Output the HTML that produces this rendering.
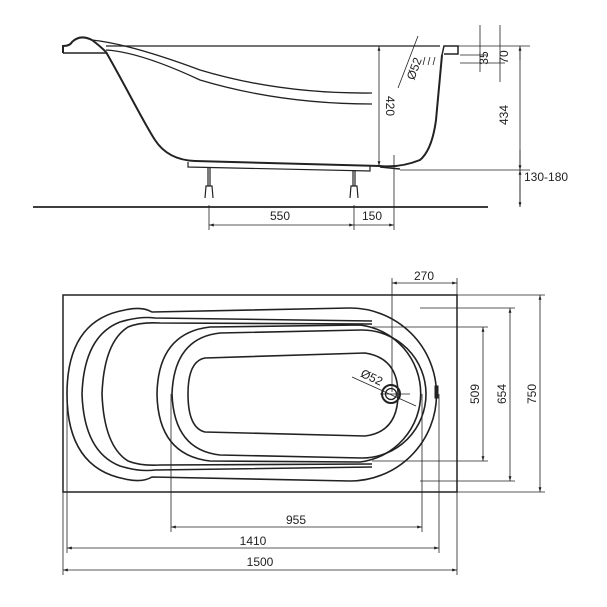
<!DOCTYPE html>
<html><head><style>html,body{margin:0;padding:0;background:#fff}svg{display:block}</style></head><body>
<svg width="607" height="607" viewBox="0 0 607 607" xmlns="http://www.w3.org/2000/svg" font-family="Liberation Sans, sans-serif" font-size="12" fill="none" stroke="#222">
<defs><marker id="a" viewBox="0 0 10 10" refX="10" refY="5" markerWidth="8" markerHeight="6" orient="auto-start-reverse"><path d="M0,2 L10,5 L0,8" fill="#222" stroke="none"/></marker></defs>
<!-- SIDE VIEW -->
<g stroke-width="2">
<path d="M63,53 L63,46 Q70,46 72,42 Q80,34 92,40 Q100,46 106,52"/>
<line x1="63" y1="53" x2="106" y2="53" stroke-width="1.5"/>
<path d="M106,52 C125,85 145,125 155,140 Q168,160 195,161 L380,166 Q400,168 420,160 Q432,150 436,120 L442,55"/>
<path d="M92,40 Q130,44 200,70 Q280,94 372,93" stroke-width="1.3"/>
<path d="M106,50 Q140,52 200,80 Q280,104 372,104" stroke-width="1.3"/>
<path d="M442,55 L444,46 L458,46 L458,54 L444,54" stroke-width="1.5"/>
</g>
<line x1="106" y1="46" x2="440" y2="46" stroke-width="1.3"/>
<path d="M188,162 L188,167 L370,171 L370,166" stroke-width="1.2"/>
<line x1="380" y1="167" x2="400" y2="169" stroke-width="1.5"/>
<g stroke-width="1.2">
<line x1="208" y1="168" x2="208" y2="186"/><line x1="210" y1="168" x2="210" y2="186"/>
<path d="M205,198 L206,186 L212,186 L213,198"/>
<line x1="353" y1="170" x2="353" y2="186"/><line x1="355" y1="170" x2="355" y2="186"/>
<path d="M350,198 L351,186 L357,186 L358,198"/>
</g>
<line x1="33" y1="207" x2="488" y2="207" stroke-width="1.8"/>
<g stroke-width="0.8">
<line x1="379" y1="46" x2="379" y2="166" marker-start="url(#a)" marker-end="url(#a)"/>
<line x1="394" y1="155" x2="394" y2="230"/>
<line x1="209" y1="205" x2="209" y2="230"/>
<line x1="354" y1="205" x2="354" y2="230"/>
<line x1="209" y1="225" x2="354" y2="225" marker-start="url(#a)" marker-end="url(#a)"/>
<line x1="354" y1="225" x2="394" y2="225" marker-end="url(#a)"/>
<line x1="458" y1="46" x2="530" y2="46"/>
<line x1="400" y1="170" x2="530" y2="170"/>
<line x1="460" y1="55" x2="488" y2="55"/>
<line x1="460" y1="63" x2="505" y2="63"/>
<line x1="480" y1="25" x2="480" y2="72"/>
<line x1="500" y1="25" x2="500" y2="82"/>
<line x1="520" y1="46" x2="520" y2="207" />
<line x1="520" y1="60" x2="520" y2="46" marker-end="url(#a)"/>
<line x1="520" y1="150" x2="520" y2="170" marker-end="url(#a)"/>
<line x1="520" y1="185" x2="520" y2="207" marker-end="url(#a)"/>
<line x1="520" y1="190" x2="520" y2="170" marker-end="url(#a)"/>
<line x1="418" y1="36" x2="398" y2="88"/>
<line x1="425" y1="57" x2="423" y2="65"/><line x1="430" y1="57" x2="428" y2="65"/><line x1="435" y1="57" x2="433" y2="65"/>
</g>
<g fill="#222" stroke="none">
<text x="386" y="96" transform="rotate(90 386 96)" font-size="12">420</text>
<text x="508" y="115" transform="rotate(-90 508 115)" font-size="12" text-anchor="middle">434</text>
<text x="488" y="58" transform="rotate(-90 488 58)" font-size="12" text-anchor="middle">35</text>
<text x="508" y="57" transform="rotate(-90 508 57)" font-size="12" text-anchor="middle">70</text>
<text x="418" y="70" transform="rotate(-70 418 70)" font-size="12" text-anchor="middle">Ø52</text>
<text x="524" y="181" font-size="12">130-180</text>
<text x="280" y="220" text-anchor="middle">550</text>
<text x="372" y="220" text-anchor="middle">150</text>
</g>
<!-- TOP VIEW -->
<rect x="63" y="295" width="394" height="197" stroke-width="1.5"/>
<g stroke-width="1.6">
<path d="M125,310 Q142,306 152,312 L350,308 A86,86 0 0 1 350,481 L152,477 Q142,483 125,479 Q67,468 67,394 Q67,320 125,310 Z"/>
<path d="M372,321 L155,318 Q140,316 120,322 Q84,336 82,394 Q84,452 120,466 Q140,472 155,470 L372,467"/>
<path d="M372,324 L160,323 Q140,322 128,327 Q104,342 102,394 Q104,446 128,461 Q140,466 160,465 L372,464"/>
<path d="M210,327 L360,325 A69,69 0 0 1 360,462 L210,461 Q158,455 157,394 Q158,333 210,327 Z"/>
<path d="M220,333 L362,330 A64,64 0 0 1 362,458 L220,455 Q174,450 172,394 Q174,338 220,333 Z"/>
<path d="M205,358 L365,353 Q398,358 398,394 Q398,432 365,436 L205,432 Q188,428 188,394 Q188,361 205,358 Z"/>
</g>
<circle cx="391" cy="394" r="9" stroke-width="2"/>
<circle cx="391" cy="394" r="5.5" stroke-width="1.3"/>
<rect x="435" y="386" width="3" height="12" fill="#222"/>
<g stroke-width="0.8">
<line x1="352" y1="377" x2="416" y2="406"/>
<line x1="380" y1="394" x2="410" y2="394"/>
<line x1="392" y1="278" x2="392" y2="392"/>
<line x1="457" y1="278" x2="457" y2="575"/>
<line x1="392" y1="283" x2="457" y2="283" marker-start="url(#a)" marker-end="url(#a)"/>
<line x1="372" y1="327" x2="488" y2="327"/>
<line x1="372" y1="461" x2="488" y2="461"/>
<line x1="420" y1="308" x2="515" y2="308"/>
<line x1="420" y1="481" x2="515" y2="481"/>
<line x1="457" y1="295" x2="545" y2="295"/>
<line x1="457" y1="492" x2="545" y2="492"/>
<line x1="483" y1="327" x2="483" y2="461" marker-start="url(#a)" marker-end="url(#a)"/>
<line x1="510" y1="308" x2="510" y2="481" marker-start="url(#a)" marker-end="url(#a)"/>
<line x1="540" y1="295" x2="540" y2="492" marker-start="url(#a)" marker-end="url(#a)"/>
<line x1="171" y1="394" x2="171" y2="532"/>
<line x1="422" y1="394" x2="422" y2="532"/>
<line x1="439" y1="394" x2="439" y2="553"/>
<line x1="67" y1="394" x2="67" y2="553"/>
<line x1="63" y1="492" x2="63" y2="575"/>
<line x1="171" y1="527" x2="422" y2="527" marker-start="url(#a)" marker-end="url(#a)"/>
<line x1="67" y1="548" x2="439" y2="548" marker-start="url(#a)" marker-end="url(#a)"/>
<line x1="63" y1="570" x2="457" y2="570" marker-start="url(#a)" marker-end="url(#a)"/>
</g>
<g fill="#222" stroke="none">
<text x="424" y="280" text-anchor="middle">270</text>
<text x="370" y="381" transform="rotate(25 370 381)" text-anchor="middle">Ø52</text>
<text x="479" y="394" transform="rotate(-90 479 394)" text-anchor="middle">509</text>
<text x="506" y="394" transform="rotate(-90 506 394)" text-anchor="middle">654</text>
<text x="536" y="394" transform="rotate(-90 536 394)" text-anchor="middle">750</text>
<text x="296" y="524" text-anchor="middle">955</text>
<text x="253" y="545" text-anchor="middle">1410</text>
<text x="260" y="566" text-anchor="middle">1500</text>
</g>
</svg>
</body></html>
